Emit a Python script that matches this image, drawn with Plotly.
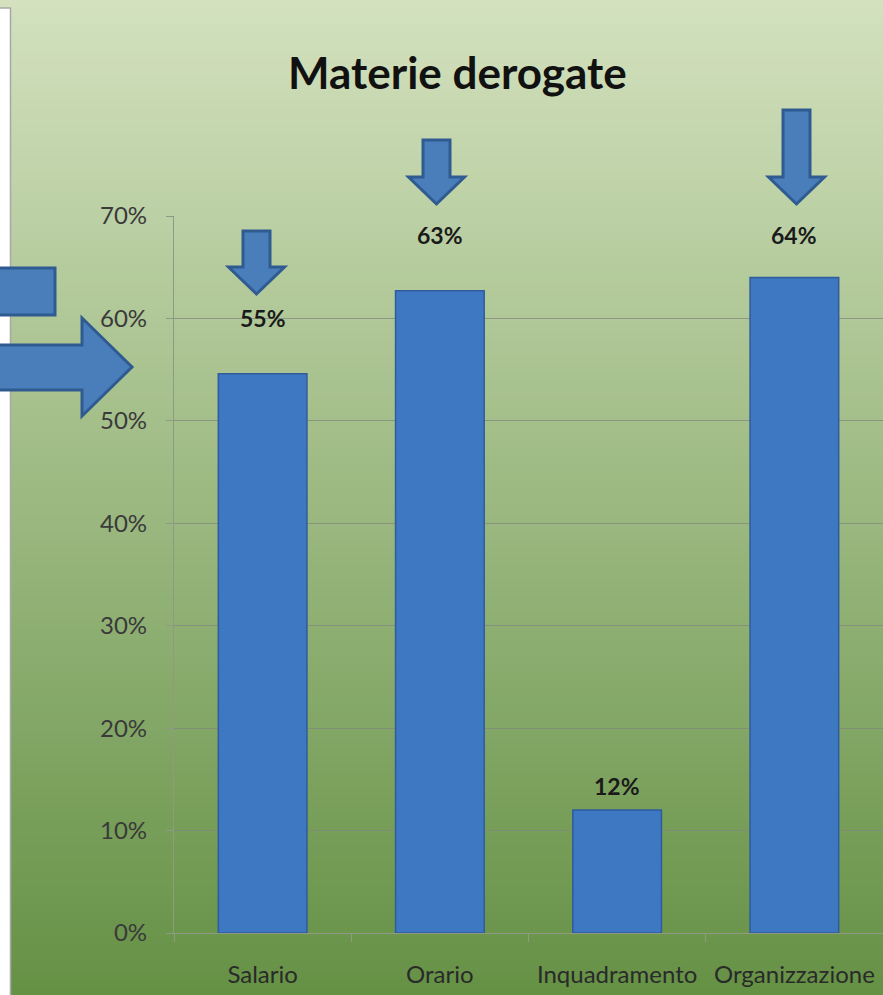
import plotly.graph_objects as go

categories = ["Salario", "Orario", "Inquadramento", "Organizzazione"]
values = [0.546, 0.627, 0.12, 0.64]
value_labels = ["55%", "63%", "12%", "64%"]
y_ticks = [0, 0.1, 0.2, 0.3, 0.4, 0.5, 0.6, 0.7]

W, H = 883, 995
label_shift = [56, 56, 24, 42]  # pixel lift of each label above its bar


def px(x):
    return x / W


def py(y):
    return 1 - y / H


def path(points):
    return "M " + " L ".join(f"{px(x):.5f},{py(y):.5f}" for x, y in points) + " Z"


shapes = []
# background gradient
top = (211, 225, 190)
bot = (101, 145, 69)
n = 120
for i in range(n):
    t = i / (n - 1)
    c = tuple(round(top[k] + (bot[k] - top[k]) * t) for k in range(3))
    y0 = H * i / n
    y1 = H * (i + 1) / n + 1
    shapes.append(dict(type="rect", xref="paper", yref="paper", layer="below",
                       x0=0, x1=1, y0=py(y1), y1=py(y0),
                       fillcolor=f"rgb{c}", line=dict(width=0)))
# white panel on the left
shapes.append(dict(type="rect", xref="paper", yref="paper", layer="below",
                   x0=px(-5), x1=px(10.5), y0=py(1000), y1=py(8),
                   fillcolor="white", line=dict(color="#a8a8a8", width=1.5)))

arrow_fill = "#4a7ebb"
arrow_line = "#2f5b91"


def down_arrow(cx, top_y, head_y, tip_y, shaft_w=27, head_w=56):
    return [(cx - shaft_w / 2, top_y), (cx + shaft_w / 2, top_y), (cx + shaft_w / 2, head_y),
            (cx + head_w / 2, head_y), (cx, tip_y), (cx - head_w / 2, head_y),
            (cx - shaft_w / 2, head_y)]


arrows = [
    down_arrow(256.5, 231, 267, 294),
    down_arrow(436.5, 140, 177, 204),
    down_arrow(796.5, 110, 177, 204),
    [(-5, 268), (55, 268), (55, 315), (-5, 315)],
    [(-5, 345), (82, 345), (82, 318), (132, 367), (82, 416), (82, 390), (-5, 390)],
]
for a in arrows:
    shapes.append(dict(type="path", xref="paper", yref="paper", layer="above",
                       path=path(a), fillcolor=arrow_fill,
                       line=dict(color=arrow_line, width=3)))

fig = go.Figure()
fig.add_trace(go.Bar(
    x=categories, y=values, width=0.5,
    marker=dict(color="#3e77c2", line=dict(color="#2f5c9c", width=1.5)),
    hoverinfo="skip",
))

annotations = []
for c, v, t, s in zip(categories, values, value_labels, label_shift):
    annotations.append(dict(x=c, y=v, xref="x", yref="y", text=t, showarrow=False,
                            yshift=s, yanchor="middle",
                            font=dict(family="Lato", size=23, color="#1a1a1a",
                                      weight="bold")))
annotations.append(dict(x=px(458), y=py(72), xref="paper", yref="paper",
                        xanchor="center", yanchor="middle",
                        text="<b>Materie derogate</b>", showarrow=False,
                        font=dict(family="Lato", size=44, color="#111111")))

fig.update_layout(
    width=W, height=H,
    autosize=False,
    margin=dict(l=0, r=0, t=0, b=0, pad=0),
    paper_bgcolor="rgba(0,0,0,0)",
    plot_bgcolor="rgba(0,0,0,0)",
    showlegend=False,
    shapes=shapes,
    annotations=annotations,
    bargap=0.5,
    xaxis=dict(
        domain=[px(174), 1],
        range=[-0.5, 3.5],
        automargin=False,
        showgrid=False,
        showline=True, linecolor="#8e9a84", linewidth=1.3,
        ticks="outside", tickson="boundaries", ticklen=8, tickcolor="#8e9a84",
        tickfont=dict(family="Lato", size=24, color="#2a2a2a"),
        ticklabelstandoff=20,
    ),
    yaxis=dict(
        domain=[py(933), py(216)],
        range=[0, 0.7],
        automargin=False,
        tickvals=y_ticks,
        tickformat=".0%",
        showgrid=True, gridcolor="rgba(130,135,125,0.75)", gridwidth=1.3,
        showline=True, linecolor="#8e9a84", linewidth=1.3,
        ticks="outside", ticklen=7, tickcolor="#8e9a84",
        tickfont=dict(family="Lato", size=24, color="#3a3a3a"),
        ticklabelstandoff=14,
        zeroline=False,
    ),
)

post = (
    "document.documentElement.style.margin='0';"
    "document.documentElement.style.overflow='hidden';"
    "document.body.style.margin='0';document.body.style.padding='0';"
    "document.body.style.overflow='hidden';"
)
fig.write_html("out.html", config={"displayModeBar": False}, post_script=post)
